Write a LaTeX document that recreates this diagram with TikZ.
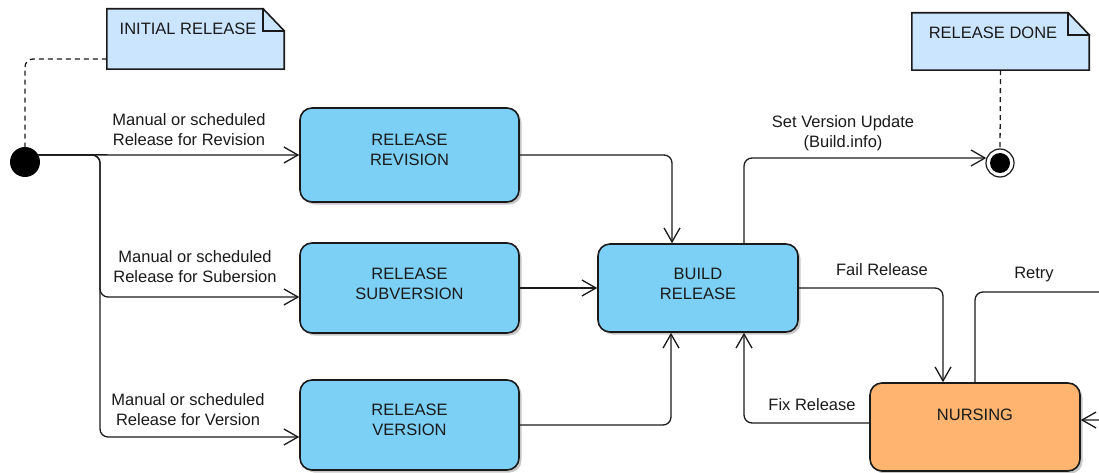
\documentclass[tikz,border=0pt]{standalone}
\usepackage{fontspec}
\setmainfont{Liberation Sans}
\usetikzlibrary{arrows.meta,shadows,backgrounds}
\definecolor{boxblue}{HTML}{7CCFF5}
\definecolor{noteblue}{HTML}{CCE5FF}
\definecolor{nurseorange}{HTML}{FFB570}
\definecolor{ink}{HTML}{1A1A1A}
\begin{document}
\begin{tikzpicture}[x=1pt,y=-1pt,
  txt/.style={font=\fontsize{16.5}{20}\selectfont, text=ink, align=center, inner sep=0pt},
  statebox/.style={draw=ink, line width=1.6pt, rounded corners=12pt, fill=boxblue,
    inner sep=0pt, minimum width=219pt, minimum height=90pt,
    drop shadow={shadow xshift=2.5pt, shadow yshift=-2.5pt, fill=black, opacity=0.22}},
  notebox/.style={draw=none, inner sep=0pt, minimum width=177pt},
  conn/.style={draw=ink, line width=1.3pt, rounded corners=8pt,
    -{Straight Barb[length=14pt,width=16pt,line width=1.3pt]}},
  noteline/.style={draw=ink, line width=1.3pt, rounded corners=8pt, dash pattern=on 5pt off 4pt},
  notefold/.style={fill=noteblue, draw=ink, line width=1.6pt, line join=miter}
]
\useasboundingbox (0,0) rectangle (1099,473);
\clip (0,0) rectangle (1099,473);

% notes
\node[notebox, minimum height=60pt,
  label={[txt, xshift=-7.5pt, yshift=10pt]center:INITIAL RELEASE}] (inote) at (195.5,39) {};
\node[notebox, minimum height=57pt,
  label={[txt, xshift=-7.5pt, yshift=8.5pt]center:RELEASE DONE}] (dnote) at (1000.5,41.5) {};
\begin{scope}[on background layer]
  \foreach \n in {inote,dnote}{
    \path[notefold] (\n.south west) -- (\n.north west) -- ([xshift=-21pt]\n.north east)
      -- ([yshift=-22pt]\n.north east) -- (\n.south east) -- cycle;
    \draw[ink, line width=1.6pt] ([xshift=-21pt]\n.north east) |- ([yshift=-22pt]\n.north east);
  }
\end{scope}

% states
\node[circle, fill=black, minimum size=30pt, inner sep=0pt] (init) at (25,162) {};
\node[statebox, minimum height=94pt,
  label={[txt, yshift=5pt]center:RELEASE\\REVISION}] (rev) at (409.5,155) {};
\node[statebox,
  label={[txt, yshift=4pt]center:RELEASE\\SUBVERSION}] (sub) at (409.5,288) {};
\node[statebox,
  label={[txt, yshift=5pt]center:RELEASE\\VERSION}] (ver) at (409.5,425) {};
\node[statebox, minimum width=200pt, minimum height=88pt,
  label={[txt, yshift=4pt]center:BUILD\\RELEASE}] (build) at (698,288) {};
\node[statebox, fill=nurseorange, minimum width=210pt, minimum height=88pt,
  label={[txt, yshift=12pt]center:NURSING}] (nurs) at (975,427) {};
\node[circle, draw=ink, line width=1.2pt, fill=white, minimum size=28pt, inner sep=0pt] (final) at (1000,163) {};
\node[circle, fill=black, minimum size=20pt, inner sep=0pt] (fcore) at (final.center) {};

% note attachments
\draw[noteline] ([yshift=-20pt]inote.west) -| (init.north);
\draw[noteline] (dnote.south) -- (final.north);

% transitions
\draw[conn] (init.28) -- (rev.west);
\draw[conn] (init.28) -- (100,155) |- ([yshift=-9pt]sub.west);
\draw[conn] (init.28) -- (100,155) |- ([yshift=-12pt]ver.west);
\draw[conn] (rev.east) -| ([xshift=-26pt]build.north);
\draw[conn] (sub.east) -- (build.west);
\draw[conn] (ver.east) -| ([xshift=-27pt]build.south);
\draw[conn] ([xshift=46pt]build.north) |- (final.160);
\draw[conn] (build.east) -| ([xshift=-32pt]nurs.north);
\draw[conn] ([yshift=4pt]nurs.west) -| ([xshift=46pt]build.south);
\draw[conn] (nurs.north) |- (1125,292) |- ([yshift=7pt]nurs.east);

% transition labels
\node[txt] (lrev) at (189,130) {Manual or scheduled\\Release for Revision};
\node[txt] (lsub) at (195,267) {Manual or scheduled\\Release for Subersion};
\node[txt] (lver) at (188,410) {Manual or scheduled\\Release for Version};
\node[txt] (ldone) at (843,133.5) {Set Version Update\\(Build.info)};
\node[txt] (lfail) at (882,270) {Fail Release};
\node[txt] (lfix) at (812,405) {Fix Release};
\node[txt] (lretry) at (1034,275) {Retry};
\end{tikzpicture}
\end{document}
